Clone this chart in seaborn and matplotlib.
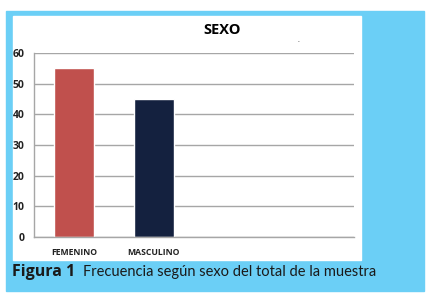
import numpy as np
import pandas as pd
import matplotlib
matplotlib.use("Agg")
import matplotlib.pyplot as plt
import seaborn as sns
from matplotlib.patches import Rectangle

# data
categorias = ["FEMENINO", "MASCULINO"]
frecuencia = [55, 45]
colores = ["#C0504D", "#14213F"]
y_ticks = [0, 10, 20, 30, 40, 50, 60]

sns.set_style("white")
plt.rcParams['font.family'] = ['Open Sans', 'DejaVu Sans']

W, H = 437, 303
fig = plt.figure(figsize=(W / 100, H / 100), dpi=100)
fig.patch.set_facecolor("white")

# blue frame and white panel
fig.patches.append(Rectangle((6 / W, 1 - 291 / H), 418 / W, 280 / H,
                             transform=fig.transFigure, color="#6BCFF6", zorder=0))
fig.patches.append(Rectangle((13 / W, 1 - 260 / H), 348 / W, 244 / H,
                             transform=fig.transFigure, color="white", zorder=1))

ax = fig.add_axes([34 / W, 1 - 237 / H, 320 / W, 184 / H])
ax.set_facecolor("none")
ax.set_zorder(2)

df = pd.DataFrame({"sexo": categorias, "frecuencia": frecuencia})
sns.barplot(data=df, x="sexo", y="frecuencia", hue="sexo", palette=colores,
            width=0.5, legend=False, ax=ax, saturation=1)

ax.set_xlim(-0.5, 3.5)
ax.set_ylim(0, 60)
ax.set_yticks(y_ticks)
ax.set_xlabel("")
ax.set_ylabel("")
ax.yaxis.grid(True, color="#A6A6A6", linewidth=1)
ax.set_axisbelow(True)
for s in ["top", "right"]:
    ax.spines[s].set_visible(False)
for s in ["left", "bottom"]:
    ax.spines[s].set_color("#A6A6A6")
    ax.spines[s].set_linewidth(1)

ax.set_xticks([0, 1])
ax.set_xticklabels(categorias, fontsize=6.2, fontweight="bold", color="#222222")
ax.set_xticks([-0.5, 0.5, 1.5, 2.5, 3.5], minor=True)
ax.tick_params(axis="x", which="major", length=0, pad=8)
ax.tick_params(axis="x", which="minor", length=3, color="#A6A6A6", direction="out")
ax.tick_params(axis="y", length=4, color="#A6A6A6", labelsize=7.5, pad=3)
for lab in ax.get_yticklabels():
    lab.set_fontweight("bold")
    lab.set_color("#222222")

fig.text(222 / W, 1 - 30 / H, "SEXO", fontsize=10.5, fontweight="bold",
         ha="center", va="center", color="black", zorder=3)
fig.text(298 / W, 1 - 44 / H, ".", fontsize=5, ha="center", va="bottom", zorder=3)

# caption: bold label then normal text
t1 = fig.text(12 / W, 1 - 272 / H, "Figura 1", fontsize=11.5, fontweight="bold",
              va="center", color="#1a1a1a", zorder=3)
fig.canvas.draw()
bb = t1.get_window_extent()
fig.text((bb.x1 + 8) / W, 1 - 272 / H, "Frecuencia según sexo del total de la muestra",
         fontsize=10.5, family=["Lato", "DejaVu Sans"], va="center",
         color="#1a1a1a", zorder=3)

fig.savefig("out.png", dpi=100)
